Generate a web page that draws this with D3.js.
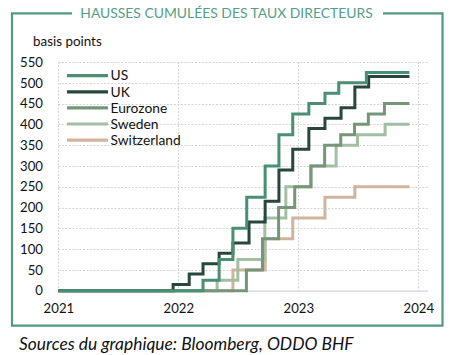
<!DOCTYPE html>
<html><head><meta charset="utf-8">
<script src="https://cdn.jsdelivr.net/npm/d3@7"></script>
<style>
html,body{margin:0;padding:0;background:#fff;}
svg{display:block;font-family:Lato,"Open Sans",sans-serif;}
</style></head>
<body><svg id="c" width="453" height="355"></svg>
<script>
const title = "HAUSSES CUMULÉES DES TAUX DIRECTEURS";
const yLabel = "basis points";
const source = "Sources du graphique: Bloomberg, ODDO BHF";
const seriesNames = ["US","UK","Eurozone","Sweden","Switzerland"];
const seriesColors = ["#4a8f74","#27473a","#76967a","#a3bfa3","#d2b39b"];
const startDate = "2021-01-01";
const endDate = "2023-12-05";
// step dates and cumulative bp after each hike
const usDates = ["2022-03-17","2022-05-05","2022-06-16","2022-07-28","2022-09-22","2022-11-03","2022-12-15","2023-02-02","2023-03-23","2023-05-04","2023-07-27"];
const usValues = [25,75,150,225,300,375,425,450,475,500,525];
const ukDates = ["2021-12-16","2022-02-03","2022-03-17","2022-05-05","2022-06-16","2022-08-04","2022-09-22","2022-11-03","2022-12-15","2023-02-02","2023-03-23","2023-05-11","2023-06-22","2023-08-03"];
const ukValues = [15,40,65,90,115,165,215,290,340,390,415,440,490,515];
const ezDates = ["2022-07-27","2022-09-14","2022-11-02","2022-12-21","2023-02-08","2023-03-22","2023-05-10","2023-06-21","2023-08-02","2023-09-20"];
const ezValues = [50,125,200,250,300,350,375,400,425,450];
const seDates = ["2022-04-29","2022-07-01","2022-09-21","2022-11-24","2023-02-09","2023-04-26","2023-06-30","2023-09-22"];
const seValues = [25,75,175,250,300,350,375,400];
const chDates = ["2022-06-16","2022-09-22","2022-12-15","2023-03-23","2023-06-22"];
const chValues = [50,125,175,225,250];
const yTicks = [0,50,100,150,200,250,300,350,400,450,500,550];
const xTicks = ["2021-01-01","2022-01-01","2023-01-01","2024-01-01"];

const allDates = [usDates,ukDates,ezDates,seDates,chDates];
const allValues = [usValues,ukValues,ezValues,seValues,chValues];
const parse = d3.timeParse("%Y-%m-%d");

const svg = d3.select("#c");
const x = d3.scaleTime().domain([parse("2021-01-01"), parse("2024-01-01")]).range([58.4, 418.3]);
const y = d3.scaleLinear().domain([0,550]).range([290.7, 62]);
const plotRight = 428;

// frame
const fc = "#4f9a80";
const frame = svg.append("g").attr("fill","none").attr("stroke",fc).attr("stroke-width",2.2);
frame.append("path").attr("d","M72,13.3 H12 V325.7 H442.5 V13.3 H383");

svg.append("text").attr("x",226.5).attr("y",18).attr("text-anchor","middle")
  .attr("font-size",13.9).attr("fill","#54a084").text(title);

svg.append("text").attr("x",33).attr("y",46).attr("font-size",13.4).attr("fill","#111").text(yLabel);

// grid
const grid = svg.append("g").attr("stroke","#d4d4d4").attr("stroke-width",1).attr("stroke-dasharray","2,1.5");
yTicks.filter(t=>t>0).forEach(t=>{
  grid.append("line").attr("x1",58.4).attr("x2",plotRight).attr("y1",Math.round(y(t))+0.5).attr("y2",Math.round(y(t))+0.5);
});
xTicks.forEach(t=>{
  grid.append("line").attr("x1",Math.round(x(parse(t)))+0.5).attr("x2",Math.round(x(parse(t)))+0.5).attr("y1",y(550)).attr("y2",y(0));
});
svg.append("line").attr("x1",58.4).attr("x2",plotRight).attr("y1",y(0)+0.5).attr("y2",y(0)+0.5).attr("stroke","#d4d4d4").attr("stroke-width",1.2);

// axes
const yAxis = d3.axisLeft(y).tickValues(yTicks).tickSize(0).tickPadding(0).tickFormat(d3.format("d"));
const ya = svg.append("g").attr("transform","translate(43,0)").call(yAxis);
ya.select(".domain").remove();
ya.selectAll("text").attr("font-size",13.2).attr("fill","#111").attr("font-family","Lato,sans-serif");

const xAxis = d3.axisBottom(x).tickValues(xTicks.map(parse)).tickSize(0).tickPadding(0).tickFormat(d3.timeFormat("%Y"));
const xa = svg.append("g").attr("transform","translate(0,304)").call(xAxis);
xa.select(".domain").remove();
xa.selectAll("text").attr("font-size",13.2).attr("fill","#111").attr("font-family","Lato,sans-serif");

// lines
const line = d3.line().x(d=>x(d[0])).y(d=>y(d[1])).curve(d3.curveStepAfter);
const order = [4,3,2,1,0];
order.forEach(i=>{
  const pts = [[parse(startDate),0]];
  allDates[i].forEach((d,j)=>pts.push([parse(d), allValues[i][j]]));
  pts.push([parse(endDate), allValues[i][allValues[i].length-1]]);
  svg.append("path").datum(pts).attr("d",line).attr("fill","none")
    .attr("stroke",seriesColors[i]).attr("stroke-width",3).attr("stroke-linejoin","miter");
});

// legend
const lg = svg.append("g");
seriesNames.forEach((n,i)=>{
  const yy = 75.7 + i*16.1;
  lg.append("line").attr("x1",67).attr("x2",108).attr("y1",yy).attr("y2",yy)
    .attr("stroke",seriesColors[i]).attr("stroke-width",3.2);
  lg.append("text").attr("x",110.5).attr("y",yy+4.7).attr("font-size",13.8).attr("fill","#111").text(n);
});

svg.append("text").attr("x",19).attr("y",350).attr("font-size",17.4).attr("font-style","italic")
  .attr("fill","#111").text(source);
</script></body></html>
